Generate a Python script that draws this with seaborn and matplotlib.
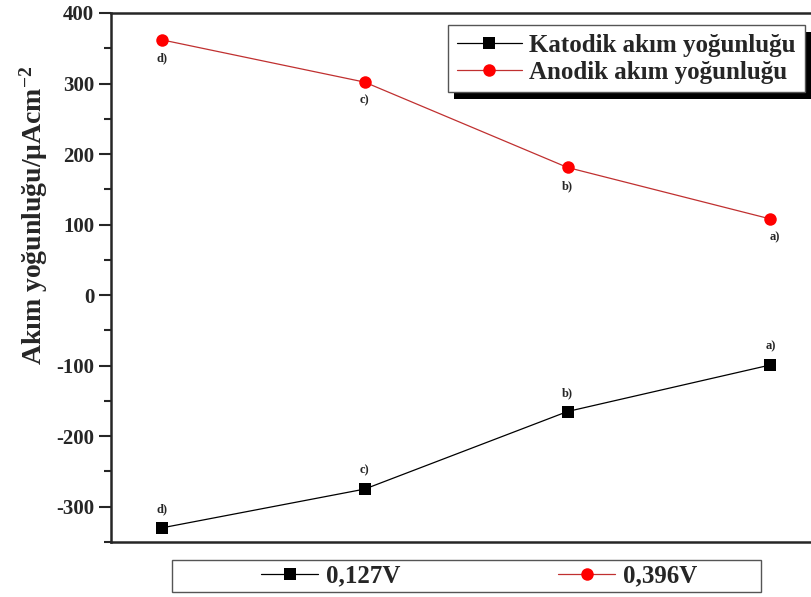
import matplotlib
matplotlib.use("Agg")
import matplotlib.pyplot as plt
import matplotlib.patches as mpatches
import seaborn as sns
import pandas as pd
from matplotlib.ticker import MultipleLocator, NullLocator

# values
points = ["d)", "c)", "b)", "a)"]
positions = [1, 2, 3, 4]
katodik = [-330, -275, -165, -99]
anodik = [362, 302, 181, 108]
series_names = ["Katodik akım yoğunluğu", "Anodik akım yoğunluğu"]
voltage_labels = ["0,127V", "0,396V"]

sns.set_style("ticks")
plt.rcParams["font.family"] = ["Liberation Serif", "DejaVu Serif"]
plt.rcParams["font.weight"] = "bold"
plt.rcParams["axes.unicode_minus"] = False
plt.rcParams["mathtext.fontset"] = "custom"
plt.rcParams["mathtext.rm"] = "Liberation Serif:bold"
plt.rcParams["mathtext.bf"] = "Liberation Serif:bold"
plt.rcParams["mathtext.default"] = "bf"

df = pd.DataFrame({
    "x": positions * 2,
    "y": katodik + anodik,
    "seri": [series_names[0]] * 4 + [series_names[1]] * 4,
    "nokta": points * 2,
})

fig = plt.figure(figsize=(8.11, 5.97), dpi=100)
ax = fig.add_axes([111 / 811, 55 / 597, 702 / 811, 529 / 597])

sns.lineplot(
    data=df, x="x", y="y", hue="seri", style="seri",
    palette={series_names[0]: "black", series_names[1]: "#c03030"},
    markers={series_names[0]: "s", series_names[1]: "o"},
    dashes=False, linewidth=0.9, markersize=9, markeredgewidth=0,
    ax=ax, legend=False,
)
# colour markers separately (red circles, black squares)
for line, mc in zip(ax.lines, ["black", "red"]):
    line.set_markerfacecolor(mc)
    line.set_markeredgecolor(mc)

for xi, yi, lab in zip(positions, katodik, points):
    ax.annotate(lab, (xi, yi), xytext=(0, 9), textcoords="offset points",
                ha="center", va="bottom", fontsize=9, fontweight="bold")
for xi, yi, lab in zip(positions, anodik, points):
    dx = 3 if lab == "a)" else 0
    ax.annotate(lab, (xi, yi), xytext=(dx, -9), textcoords="offset points",
                ha="center", va="top", fontsize=9, fontweight="bold")

ax.set_xlim(0.75, 4.21)
ax.set_ylim(-350, 400)
ax.yaxis.set_major_locator(MultipleLocator(100))
ax.yaxis.set_minor_locator(MultipleLocator(50))
ax.xaxis.set_major_locator(NullLocator())
ax.tick_params(axis="y", which="major", direction="out", length=9, width=1.5,
               labelsize=15, pad=3)
ax.tick_params(axis="y", which="minor", direction="out", length=5, width=1.5)
for lab in ax.get_yticklabels():
    lab.set_fontweight("bold")
for side in ["left", "bottom", "top"]:
    ax.spines[side].set_linewidth(1.8)
ax.spines["right"].set_visible(False)
ax.set_xlabel("")
ax.set_ylabel("Akım yoğunluğu/μAcm$^{-2}$", fontsize=20, fontweight="bold")
ax.yaxis.set_label_coords(-0.087, 0.617)

handles = ax.lines[:2]
leg = ax.legend(handles, series_names, loc="upper right",
                bbox_to_anchor=(0.988, 0.977), borderaxespad=0,
                frameon=True, fancybox=False, shadow=False,
                handlelength=2.6, handletextpad=0.3, borderpad=0.35,
                labelspacing=0.15, prop={"weight": "bold", "size": 18})
leg.get_frame().set_edgecolor("#555555")
leg.get_frame().set_linewidth(1.0)
leg.get_frame().set_alpha(1)
leg.set_zorder(6)

leg2 = fig.legend(handles, voltage_labels, loc="center",
                  bbox_to_anchor=(479 / 811, 21 / 597), borderaxespad=0,
                  ncol=2, frameon=False,
                  handlelength=2.3, handletextpad=0.3, borderpad=0.2,
                  columnspacing=6.3, prop={"weight": "bold", "size": 18})
fig.patches.append(mpatches.Rectangle(
    (172 / 811, 5 / 597), 589 / 811, 32 / 597, transform=fig.transFigure,
    facecolor="white", edgecolor="#555555", linewidth=1.0, zorder=0))

# black drop shadow behind the upper legend
fig.canvas.draw()
bb = leg.get_window_extent().transformed(fig.transFigure.inverted())
ax.add_patch(mpatches.Rectangle(
    (bb.x0 + 6 / 811, bb.y0 - 7 / 597), bb.width, bb.height,
    transform=fig.transFigure, facecolor="black", edgecolor="none",
    zorder=5, clip_on=False))

fig.savefig("out.png", dpi=100)
